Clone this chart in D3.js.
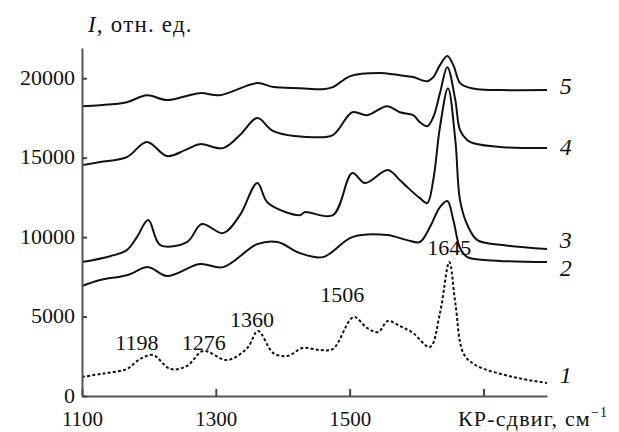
<html>
<head>
<meta charset="utf-8">
<script src="https://d3js.org/d3.v7.min.js"></script>
<style>
body { margin: 0; background: #fff; }
svg text { font-family: "Liberation Serif", "DejaVu Serif", "Times New Roman", serif; fill: #111; }
</style>
</head>
<body>
<script>
// Raman spectra, wavenumber (cm-1) and intensity (rel. units)
var wn5 = [1100,1127,1167,1197,1227,1276,1306,1362,1386,1426,1460,1475,1501,1545,1565,1575,1595,1616,1625,1635,1646,1655,1665,1676,1691,1725,1795];
var I5  = [18240,18300,18490,18930,18620,19060,18930,19690,19440,19370,19310,19440,20130,20320,20250,20190,20070,19810,20070,20820,21390,20820,19690,19440,19310,19250,19250];

var wn4 = [1100,1127,1167,1197,1227,1254,1276,1311,1336,1362,1386,1445,1475,1504,1526,1556,1575,1595,1605,1616,1625,1635,1646,1658,1665,1676,1685,1729,1795];
var I4  = [14530,14720,15030,15980,15100,15470,15850,15600,16420,17490,16670,16290,16420,17860,17670,18240,17860,17670,17230,16980,17550,19060,20690,18620,16730,16100,15910,15660,15600];

var wn3 = [1100,1142,1167,1182,1199,1217,1257,1279,1311,1336,1362,1378,1426,1433,1475,1504,1523,1557,1575,1586,1605,1616,1625,1635,1647,1658,1665,1676,1691,1729,1795];
var I3  = [8430,8800,9180,10000,11070,9500,9690,10820,10250,11380,13400,12140,11380,11570,11380,14030,13400,14220,13590,13150,12450,12140,13590,16920,19370,16100,12330,10760,9810,9500,9250];

var wn2 = [1100,1127,1167,1199,1227,1276,1311,1362,1392,1426,1460,1504,1556,1586,1605,1620,1635,1646,1655,1665,1676,1706,1795];
var I2  = [6920,7300,7600,8110,7550,8300,8110,9560,9690,8990,8740,10000,10130,9810,9690,10630,11890,12270,11070,9310,8740,8550,8430];

var wn1 = [1100,1127,1137,1167,1187,1206,1232,1257,1281,1317,1347,1363,1386,1407,1430,1456,1475,1506,1526,1543,1557,1575,1595,1620,1635,1649,1658,1670,1688,1744,1795];
var I1  = [1200,1380,1450,1700,2330,2580,1700,1890,2830,2260,3020,4090,2700,2520,3020,2890,2960,4970,4280,4030,4720,4400,3960,3080,5220,8430,5850,2700,1950,1200,820];

var curveNames = ["5","4","3","2","1"];
var curveLabelY = [19500,15660,9810,8050,1320];

var peakText = ["1198","1276","1360","1506","1645"];
var peakX = [1182,1282,1354,1489,1649];
var peakY = [2890,2890,4340,5910,8870];

var xTicks = [1100,1300,1500,1700];
var yTicks = [0,5000,10000,15000,20000];

var W = 619, H = 432;
var FONT = "'Liberation Serif', 'DejaVu Serif', serif";
var svg = d3.select("body").append("svg").attr("width", W).attr("height", H);

var x = d3.scaleLinear().domain([1100,1795]).range([82,547]);
var y = d3.scaleLinear().domain([0,21900]).range([396,48]);

var line = d3.line()
  .x(function(d){ return x(d[0]); })
  .y(function(d){ return y(d[1]); })
  .curve(d3.curveCatmullRom.alpha(0.5));

function pairs(a,b){ return a.map(function(v,i){ return [v,b[i]]; }); }

var series = [pairs(wn5,I5), pairs(wn4,I4), pairs(wn3,I3), pairs(wn2,I2), pairs(wn1,I1)];

series.forEach(function(s,i){
  svg.append("path")
    .attr("d", line(s))
    .attr("fill","none")
    .attr("stroke","#111")
    .attr("stroke-width", 2)
    .attr("stroke-dasharray", i==4 ? "3,2.2" : null);
});

// axes
var xAxis = d3.axisBottom(x).tickValues(xTicks).tickSize(-7).tickSizeOuter(0).tickPadding(15)
  .tickFormat(function(d){ return d==1700 ? "" : d; });
var yAxis = d3.axisLeft(y).tickValues(yTicks).tickSize(-5).tickSizeOuter(0).tickPadding(7)
  .tickFormat(d3.format("d"));

var gx = svg.append("g").attr("transform","translate(0,396)").call(xAxis);
var gy = svg.append("g").attr("transform","translate(82,0)").call(yAxis);
[gx,gy].forEach(function(g){
  g.attr("font-family", FONT);
  g.select(".domain").attr("stroke","#555").attr("stroke-width",2);
  g.selectAll(".tick line").attr("stroke","#444").attr("stroke-width",2);
  g.selectAll("text").style("font-family",FONT).attr("fill","#111");
});
gx.selectAll("text").style("font-size","21px");
gy.selectAll("text").style("font-size","22px").attr("dy","0.28em");

// axis titles
var yt = svg.append("text").attr("x",88).attr("y",32).style("font-family",FONT)
  .style("font-size","23px").style("letter-spacing","1.2px");
yt.append("tspan").style("font-style","italic").text("I");
yt.append("tspan").text(", отн. ед.");

var xt = svg.append("text").attr("x",458).attr("y",426).style("font-family",FONT)
  .style("font-size","22px").style("letter-spacing","1.2px");
xt.append("tspan").text("КР-сдвиг, см");
xt.append("tspan").attr("dy",-9).style("font-size","14px").text("−1");

// curve numbers
svg.selectAll(".cn").data(curveNames).enter().append("text")
  .attr("x", x(1814)).attr("y", function(d,i){ return y(curveLabelY[i]); })
  .attr("dominant-baseline","central")
  .style("font-family",FONT).style("font-style","italic").style("font-size","24px")
  .text(function(d){ return d; });

// peak labels
svg.selectAll(".pk").data(peakText).enter().append("text")
  .attr("x", function(d,i){ return x(peakX[i]); })
  .attr("y", function(d,i){ return y(peakY[i]); })
  .attr("text-anchor","middle")
  .style("font-family",FONT).style("font-size","22px")
  .text(function(d){ return d; });
</script>
</body>
</html>
